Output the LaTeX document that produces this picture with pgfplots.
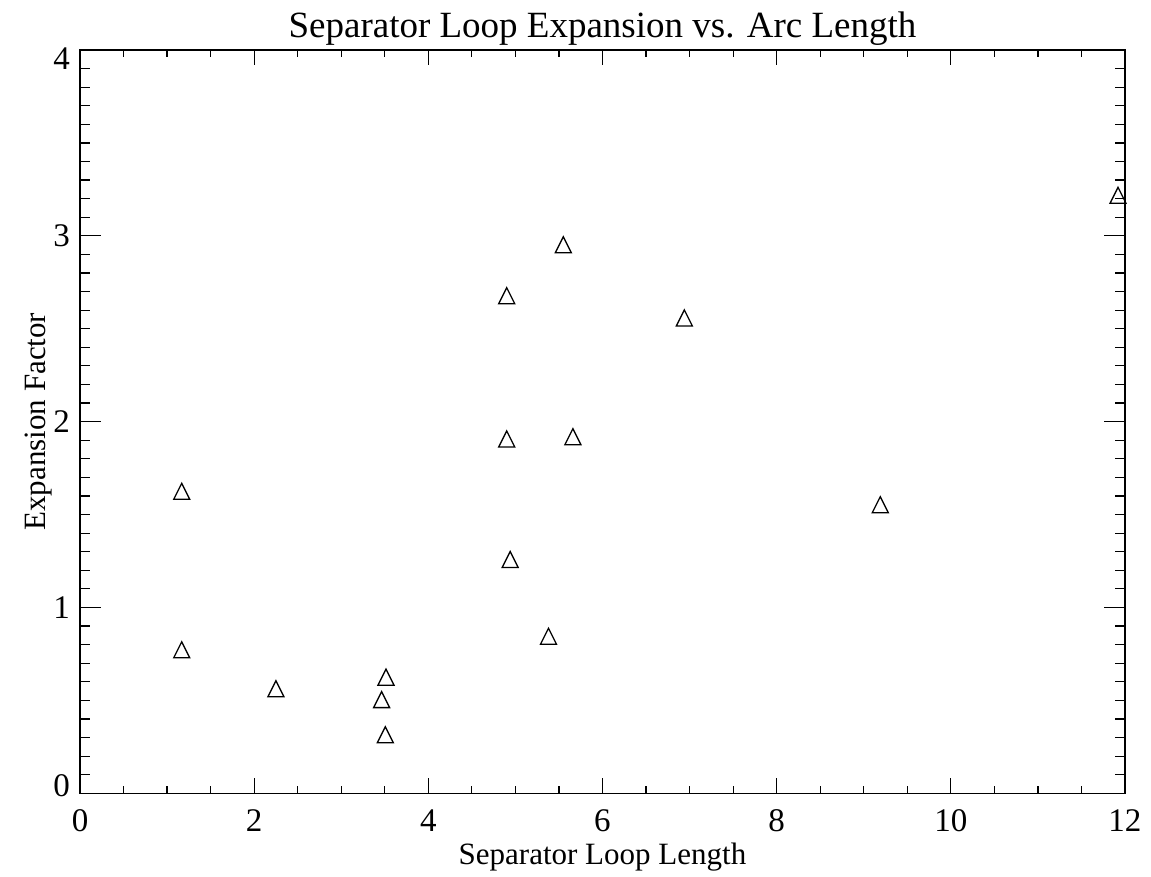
\documentclass[border=0pt]{standalone}
\usepackage{fontspec}
\setmainfont{Liberation Serif}
\usepackage{pgfplots}
\pgfplotsset{compat=1.18}
\pgfdeclareplotmark{idltri}{%
  \pgfpathmoveto{\pgfqpoint{-\pgfplotmarksize}{-\pgfplotmarksize}}%
  \pgfpathlineto{\pgfqpoint{0pt}{\pgfplotmarksize}}%
  \pgfpathlineto{\pgfqpoint{\pgfplotmarksize}{-\pgfplotmarksize}}%
  \pgfpathclose
  \pgfusepathqstroke}
\begin{document}
\begin{tikzpicture}[x=1pt,y=1pt]
\useasboundingbox (0,0) rectangle (1151,877);
\begin{axis}[
  at={(80pt,83.7pt)}, anchor=south west,
  width=1045pt, height=743.3pt, scale only axis,
  xmin=0, xmax=12, ymin=0, ymax=4,
  xtick={0,2,...,12}, ytick={0,1,...,4},
  yticklabels={\raisebox{8pt}[\height][\depth]{0},1,2,3,\raisebox{-9pt}[\height][\depth]{4}},
  minor x tick num=3, minor y tick num=9,
  tick align=inside,
  xtick style={/pgfplots/major tick length=15pt,/pgfplots/minor tick length=7pt, line width=1.2pt, black},
  ytick style={/pgfplots/major tick length=21pt,/pgfplots/minor tick length=10pt, line width=1.2pt, black},
  axis line style={line width=1.5pt},
  tick label style={font=\fontsize{33}{36}\selectfont},
  /pgf/number format/assume math mode=true,
  xticklabel style={anchor=base, inner sep=0pt, yshift=-38pt},
  yticklabel style={anchor=east, inner sep=0pt, xshift=-10pt},
  title={Separator Loop Expansion vs. Arc Length},
  title style={at={(axis description cs:0.5,1.021)}, anchor=center, inner sep=0pt, font=\fontsize{37}{40}\selectfont},
  xlabel={Separator Loop Length},
  xlabel style={at={(axis description cs:0.5,-0.0857)}, anchor=center, inner sep=0pt, font=\fontsize{31}{34}\selectfont},
  ylabel={Expansion Factor},
  ylabel style={at={(axis description cs:-0.0335,0.5)}, anchor=base, inner sep=0pt, font=\fontsize{31}{34}\selectfont},
  clip=false,
]
\addplot[only marks, mark=idltri, mark size=8pt, line width=1.3pt, black] coordinates {
(1.168,1.625)
(1.168,0.772)
(2.25,0.563)
(3.514,0.625)
(3.464,0.504)
(3.506,0.315)
(4.90,2.678)
(4.90,1.907)
(4.94,1.258)
(5.38,0.845)
(5.55,2.952)
(5.66,1.919)
(6.94,2.558)
(9.19,1.553)
(11.92,3.218)
};
\end{axis}
\end{tikzpicture}
\end{document}
